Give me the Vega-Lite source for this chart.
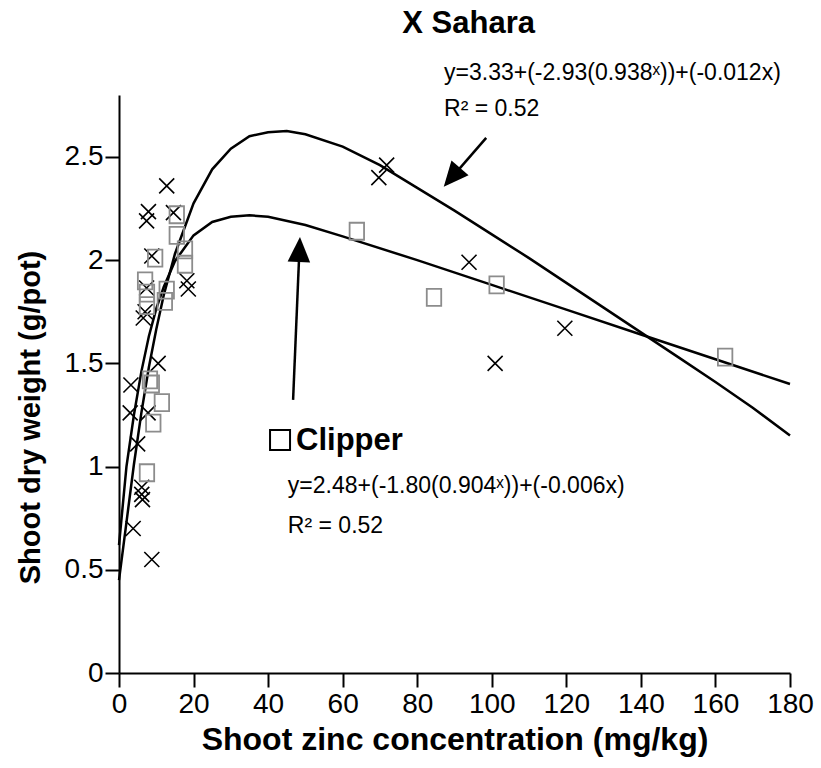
{
  "$schema": "https://vega.github.io/schema/vega-lite/v6.json",
  "width": 671,
  "height": 578,
  "autosize": "none",
  "padding": {"left": 119, "top": 95, "right": 31, "bottom": 95},
  "background": "white",
  "config": {
    "view": {"stroke": null},
    "axis": {"grid": false, "domainColor": "black", "domainWidth": 2, "tickColor": "black", "tickWidth": 2, "tickSize": 14, "labelColor": "black", "titleColor": "black", "labelFont": "Liberation Sans", "labelFontSize": 28, "labelOverlap": false, "labelFlush": false, "titleFont": "Liberation Sans", "titleFontWeight": "bold", "titleFontSize": 32}
  },
  "datasets": {
    "curves": [
      {"series": "Sahara", "x": 0, "y": 0.45}, {"series": "Sahara", "x": 2, "y": 0.73}, {"series": "Sahara", "x": 4, "y": 1.01}, {"series": "Sahara", "x": 6, "y": 1.26}, {"series": "Sahara", "x": 8, "y": 1.48}, {"series": "Sahara", "x": 10, "y": 1.665}, {"series": "Sahara", "x": 12, "y": 1.83}, {"series": "Sahara", "x": 15, "y": 2.03}, {"series": "Sahara", "x": 20, "y": 2.275}, {"series": "Sahara", "x": 25, "y": 2.44}, {"series": "Sahara", "x": 30, "y": 2.54}, {"series": "Sahara", "x": 35, "y": 2.6}, {"series": "Sahara", "x": 40, "y": 2.62}, {"series": "Sahara", "x": 45, "y": 2.625}, {"series": "Sahara", "x": 50, "y": 2.61}, {"series": "Sahara", "x": 60, "y": 2.55}, {"series": "Sahara", "x": 70, "y": 2.46}, {"series": "Sahara", "x": 80, "y": 2.35}, {"series": "Sahara", "x": 90, "y": 2.24}, {"series": "Sahara", "x": 100, "y": 2.125}, {"series": "Sahara", "x": 110, "y": 2.01}, {"series": "Sahara", "x": 120, "y": 1.89}, {"series": "Sahara", "x": 130, "y": 1.77}, {"series": "Sahara", "x": 140, "y": 1.65}, {"series": "Sahara", "x": 150, "y": 1.53}, {"series": "Sahara", "x": 160, "y": 1.41}, {"series": "Sahara", "x": 170, "y": 1.285}, {"series": "Sahara", "x": 180, "y": 1.15},
      {"series": "Clipper", "x": 0, "y": 0.62}, {"series": "Clipper", "x": 2, "y": 1.0}, {"series": "Clipper", "x": 4, "y": 1.25}, {"series": "Clipper", "x": 6, "y": 1.46}, {"series": "Clipper", "x": 8, "y": 1.63}, {"series": "Clipper", "x": 10, "y": 1.765}, {"series": "Clipper", "x": 12, "y": 1.87}, {"series": "Clipper", "x": 15, "y": 1.995}, {"series": "Clipper", "x": 20, "y": 2.12}, {"series": "Clipper", "x": 25, "y": 2.185}, {"series": "Clipper", "x": 30, "y": 2.21}, {"series": "Clipper", "x": 35, "y": 2.217}, {"series": "Clipper", "x": 40, "y": 2.21}, {"series": "Clipper", "x": 50, "y": 2.17}, {"series": "Clipper", "x": 60, "y": 2.115}, {"series": "Clipper", "x": 80, "y": 2.0}, {"series": "Clipper", "x": 100, "y": 1.88}, {"series": "Clipper", "x": 120, "y": 1.76}, {"series": "Clipper", "x": 140, "y": 1.64}, {"series": "Clipper", "x": 160, "y": 1.52}, {"series": "Clipper", "x": 180, "y": 1.4}
    ],
    "sahara": [
      {"x": 12.8, "y": 2.36}, {"x": 7.9, "y": 2.235}, {"x": 7.4, "y": 2.19}, {"x": 14.6, "y": 2.23}, {"x": 8.8, "y": 2.02}, {"x": 18.2, "y": 1.9}, {"x": 18.6, "y": 1.86}, {"x": 7.4, "y": 1.865}, {"x": 7.0, "y": 1.75}, {"x": 6.5, "y": 1.72}, {"x": 10.5, "y": 1.5}, {"x": 3.2, "y": 1.395}, {"x": 3.0, "y": 1.26}, {"x": 7.8, "y": 1.26}, {"x": 5.0, "y": 1.11}, {"x": 6.1, "y": 0.9}, {"x": 6.1, "y": 0.865}, {"x": 6.3, "y": 0.84}, {"x": 3.8, "y": 0.7}, {"x": 8.8, "y": 0.55}, {"x": 71.8, "y": 2.46}, {"x": 69.7, "y": 2.4}, {"x": 93.9, "y": 1.99}, {"x": 119.6, "y": 1.67}, {"x": 100.9, "y": 1.5}
    ],
    "clipper": [
      {"x": 15.5, "y": 2.22}, {"x": 15.5, "y": 2.12}, {"x": 9.7, "y": 2.01}, {"x": 17.7, "y": 2.05}, {"x": 17.7, "y": 1.98}, {"x": 7.0, "y": 1.9}, {"x": 7.5, "y": 1.84}, {"x": 12.8, "y": 1.855}, {"x": 7.5, "y": 1.78}, {"x": 12.3, "y": 1.8}, {"x": 8.3, "y": 1.42}, {"x": 8.8, "y": 1.4}, {"x": 11.5, "y": 1.31}, {"x": 9.2, "y": 1.21}, {"x": 7.5, "y": 0.97}, {"x": 63.8, "y": 2.14}, {"x": 84.5, "y": 1.82}, {"x": 101.3, "y": 1.88}, {"x": 162.6, "y": 1.53}
    ],
    "arrows": [
      {"arrow": "Sahara", "x": 98.5, "y": 2.592, "x2": 89.3, "y2": 2.401},
      {"arrow": "Clipper", "x": 46.7, "y": 1.323, "x2": 48.4, "y2": 2.052}
    ],
    "titles": [
      {"text": "X Sahara", "x": 76.0, "y": 3.1},
      {"text": "Clipper", "x": 47.5, "y": 1.08}
    ],
    "equations": [
      {"text": "y=3.33+(-2.93(0.938ˣ))+(-0.012x)", "x": 87.2, "y": 2.873},
      {"text": "R² = 0.52", "x": 87.2, "y": 2.7},
      {"text": "y=2.48+(-1.80(0.904ˣ))+(-0.006x)", "x": 45.3, "y": 0.872},
      {"text": "R² = 0.52", "x": 45.3, "y": 0.678}
    ],
    "legendbox": [{"x": 43.2, "y": 1.129}]
  },
  "encoding": {
    "x": {"field": "x", "type": "quantitative", "scale": {"domain": [0, 180], "nice": false},
      "axis": {"values": [0, 20, 40, 60, 80, 100, 120, 140, 160, 180], "labelPadding": 3, "title": "Shoot zinc concentration (mg/kg)", "titlePadding": 6}},
    "y": {"field": "y", "type": "quantitative", "scale": {"domain": [0, 2.8], "nice": false},
      "axis": {"values": [0, 0.5, 1, 1.5, 2, 2.5], "labelExpr": "format(datum.value, '~g')", "labelPadding": 2, "title": "Shoot dry weight (g/pot)", "titleFontSize": 29, "titleX": -89, "titleY": 322, "titleAlign": "center", "titleBaseline": "middle"}}
  },
  "layer": [
    {"data": {"name": "curves"}, "mark": {"type": "line", "color": "black", "strokeWidth": 2.5}, "encoding": {"detail": {"field": "series"}}},
    {"data": {"name": "sahara"}, "mark": {"type": "point", "shape": "M -1 -1 L 1 1 M -1 1 L 1 -1", "size": 225, "filled": false, "stroke": "black", "strokeWidth": 1.6, "opacity": 1}},
    {"data": {"name": "clipper"}, "mark": {"type": "point", "shape": "M -0.85 -1 L 0.85 -1 L 0.85 1 L -0.85 1 Z", "size": 289, "filled": false, "stroke": "#8c8c8c", "strokeWidth": 1.8, "opacity": 1}},
    {"data": {"name": "arrows"}, "mark": {"type": "rule", "color": "black", "strokeWidth": 2.5}, "encoding": {"x2": {"field": "x2"}, "y2": {"field": "y2"}}},
    {"data": {"name": "arrows"}, "transform": [{"filter": "datum.arrow == 'Sahara'"}], "mark": {"type": "point", "shape": "M 0 -1 L -0.9 1 L 0.9 1 Z", "size": 625, "filled": true, "color": "black", "opacity": 1, "angle": 220.6}, "encoding": {"x": {"field": "x2", "type": "quantitative"}, "y": {"field": "y2", "type": "quantitative"}}},
    {"data": {"name": "arrows"}, "transform": [{"filter": "datum.arrow == 'Clipper'"}], "mark": {"type": "point", "shape": "M 0 -1 L -0.9 1 L 0.9 1 Z", "size": 625, "filled": true, "color": "black", "opacity": 1, "angle": 2.5}, "encoding": {"x": {"field": "x2", "type": "quantitative"}, "y": {"field": "y2", "type": "quantitative"}}},
    {"data": {"name": "titles"}, "mark": {"type": "text", "align": "left", "baseline": "alphabetic", "font": "Liberation Sans", "fontWeight": "bold", "fontSize": 31, "color": "black"}, "encoding": {"text": {"field": "text"}}},
    {"data": {"name": "equations"}, "mark": {"type": "text", "align": "left", "baseline": "alphabetic", "font": "Liberation Sans", "fontSize": 23, "color": "black"}, "encoding": {"text": {"field": "text"}}},
    {"data": {"name": "legendbox"}, "mark": {"type": "point", "shape": "square", "size": 400, "filled": false, "stroke": "black", "strokeWidth": 2, "opacity": 1}}
  ]
}
